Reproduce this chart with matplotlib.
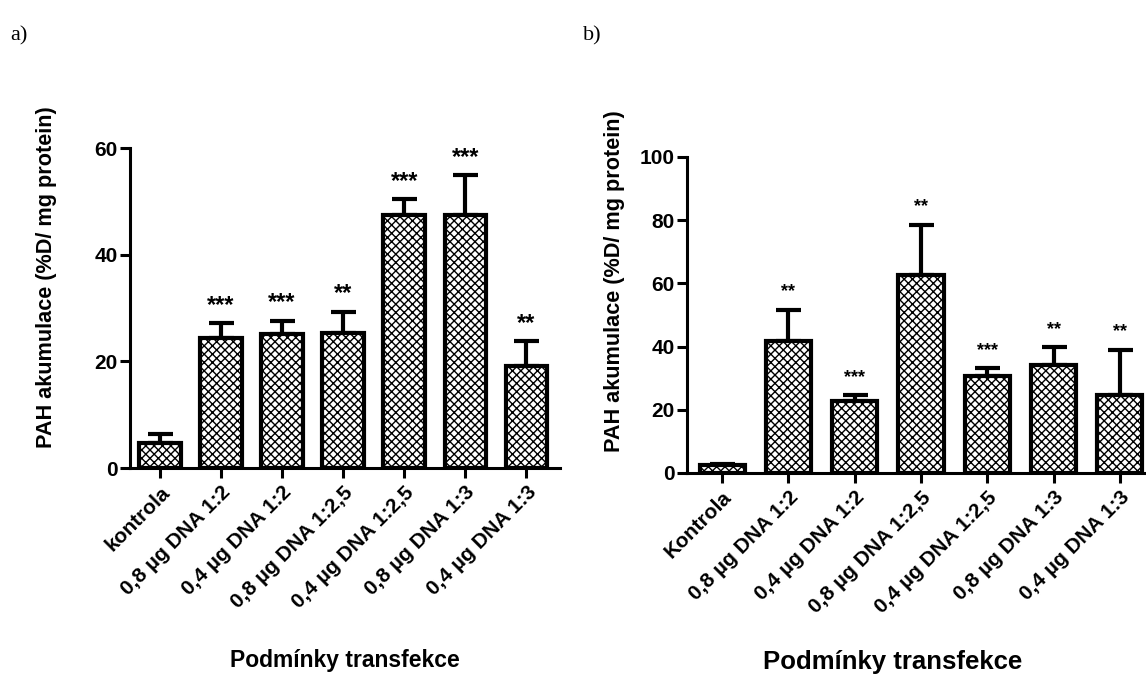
import numpy as np
import matplotlib
matplotlib.use('Agg')
import matplotlib.pyplot as plt

# panel a data
labels_a = ['kontrola', '0,8 µg DNA 1:2', '0,4 µg DNA 1:2', '0,8 µg DNA 1:2,5',
            '0,4 µg DNA 1:2,5', '0,8 µg DNA 1:3', '0,4 µg DNA 1:3']
means_a = [4.7, 24.3, 25.1, 25.4, 47.4, 47.4, 19.1]
errs_a = [1.6, 2.8, 2.5, 3.9, 3.0, 7.5, 4.7]
stars_a = ['', '***', '***', '**', '***', '***', '**']

# panel b data
labels_b = ['Kontrola', '0,8 µg DNA 1:2', '0,4 µg DNA 1:2', '0,8 µg DNA 1:2,5',
            '0,4 µg DNA 1:2,5', '0,8 µg DNA 1:3', '0,4 µg DNA 1:3']
means_b = [2.5, 41.8, 22.8, 62.6, 30.7, 34.2, 24.7]
errs_b = [0.3, 9.9, 1.8, 15.9, 2.4, 5.6, 14.3]
stars_b = ['', '**', '***', '**', '***', '**', '**']

plt.rcParams['font.family'] = 'Liberation Sans'
plt.rcParams['font.weight'] = 'bold'
plt.rcParams['axes.labelweight'] = 'bold'
plt.rcParams['hatch.linewidth'] = 1.0

fig = plt.figure(figsize=(11.46, 6.78), dpi=100)


def draw(ax, labels, means, errs, stars, ymax, ystep, star_size, xlab_size):
    x = np.arange(len(labels))
    ax.bar(x, means, width=0.68, color='white', edgecolor='black',
           linewidth=3, hatch='xxxx', zorder=2)
    ax.errorbar(x, means, yerr=[np.zeros(len(errs)), errs], fmt='none',
                ecolor='black', elinewidth=3, capsize=9, capthick=3, zorder=1)
    for xi, m, e, s in zip(x, means, errs, stars):
        if s:
            ax.annotate(s, (xi, m + e), xytext=(0, 13), textcoords='offset points',
                        ha='center', va='center', fontsize=star_size)
    ax.set_ylim(0, ymax)
    ax.set_yticks(np.arange(0, ymax + 1, ystep))
    ax.set_xticks(x)
    ax.set_xticklabels(labels, rotation=45, ha='right', rotation_mode='anchor',
                       fontsize=15)
    ax.tick_params(axis='y', labelsize=15, width=2.2, length=7, pad=2)
    ax.tick_params(axis='x', width=2.2, length=7)
    for sp in ['top', 'right']:
        ax.spines[sp].set_visible(False)
    for sp in ['left', 'bottom']:
        ax.spines[sp].set_linewidth(2.2)
    ax.set_ylabel('PAH akumulace (%D/ mg protein)', fontsize=15.6)
    ax.set_xlabel('Podmínky transfekce', fontsize=xlab_size)


ax1 = fig.add_axes([0.1134, 0.3097, 0.3752, 0.472])
draw(ax1, labels_a, means_a, errs_a, stars_a, 60, 20, 17, 16.5)
ax1.set_xlim(-0.49, 6.55)
ax1.yaxis.set_label_coords(-0.17, 0.597)
ax1.xaxis.set_label_coords(0.5, -0.566)

ax2 = fig.add_axes([0.5995, 0.3024, 0.4095, 0.4661])
draw(ax2, labels_b, means_b, errs_b, stars_b, 100, 20, 13, 18.5)
ax2.set_xlim(-0.53, 6.55)
ax2.yaxis.set_label_coords(-0.132, 0.607)
ax2.xaxis.set_label_coords(0.439, -0.56)

fig.text(0.009, 0.94, 'a)', family='Liberation Serif', fontweight='normal', fontsize=16)
fig.text(0.509, 0.94, 'b)', family='Liberation Serif', fontweight='normal', fontsize=16)

fig.savefig('out.png', dpi=100)
